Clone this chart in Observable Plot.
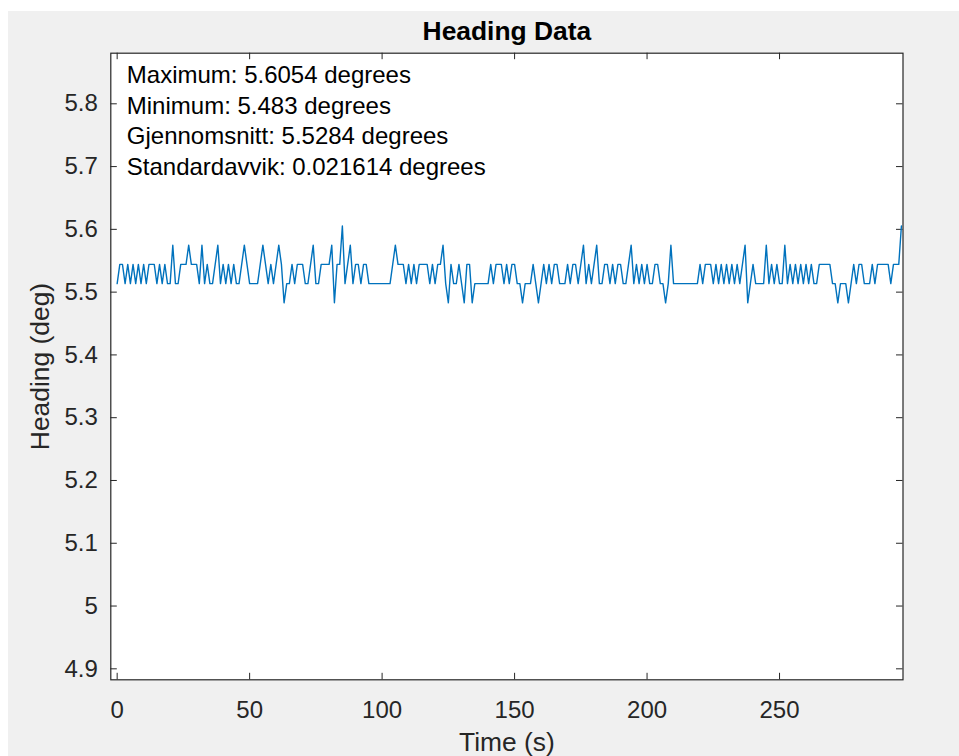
<!DOCTYPE html>
<html>
<head>
<meta charset="utf-8">
<script src="https://cdn.jsdelivr.net/npm/d3@7"></script>
<script src="https://cdn.jsdelivr.net/npm/@observablehq/plot@0.6"></script>
<style>
  html, body { margin: 0; padding: 0; background: #ffffff; }
  #wrap { position: relative; width: 959px; height: 756px; overflow: hidden; }
  #bg { position: absolute; left: 8px; top: 11px; right: 0; bottom: 0; background: #f0f0f0; }
  #chart { position: absolute; left: 0; top: 0; }
  #chart svg { background: transparent; }
</style>
</head>
<body>
<div id="wrap"><div id="bg"></div><div id="chart"></div></div>
<script>
// ---- data ----
const title = "Heading Data";
const xLabel = "Time (s)";
const yLabel = "Heading (deg)";
const xTicks = [0, 50, 100, 150, 200, 250];
const yTicks = [4.9, 5, 5.1, 5.2, 5.3, 5.4, 5.5, 5.6, 5.7, 5.8];
const xDomain = [-2.4, 296.6];
const yDomain = [4.8825, 5.8806];
const statsLines = [
  "Maximum: 5.6054 degrees",
  "Minimum: 5.483 degrees",
  "Gjennomsnitt: 5.5284 degrees",
  "Standardavvik: 0.021614 degrees"
];
// heading samples, one per second (t = 0 .. 296 s)
const heading = [
5.5136,5.5442,5.5442,5.5136,5.5442,5.5136,5.5442,5.5136,5.5442,5.5136,
5.5442,5.5136,5.5442,5.5442,5.5442,5.5136,5.5442,5.5136,5.5442,5.5136,
5.5136,5.5748,5.5136,5.5136,5.5442,5.5442,5.5442,5.5748,5.5442,5.5442,
5.5442,5.5136,5.5748,5.5136,5.5442,5.5136,5.5136,5.5442,5.5748,5.5136,
5.5442,5.5136,5.5442,5.5136,5.5442,5.5136,5.5136,5.5442,5.5748,5.5442,
5.5136,5.5136,5.5136,5.5136,5.5442,5.5748,5.5442,5.5136,5.5442,5.5136,
5.5442,5.5748,5.5442,5.4830,5.5136,5.5136,5.5442,5.5136,5.5442,5.5442,
5.5442,5.5136,5.5136,5.5442,5.5748,5.5136,5.5136,5.5442,5.5442,5.5442,
5.5442,5.5748,5.4830,5.5442,5.5442,5.6054,5.5136,5.5442,5.5748,5.5136,
5.5442,5.5442,5.5136,5.5442,5.5442,5.5136,5.5136,5.5136,5.5136,5.5136,
5.5136,5.5136,5.5136,5.5136,5.5442,5.5748,5.5442,5.5442,5.5442,5.5136,
5.5442,5.5136,5.5442,5.5136,5.5442,5.5442,5.5442,5.5442,5.5136,5.5442,
5.5136,5.5442,5.5442,5.5748,5.5136,5.4830,5.5442,5.5136,5.5136,5.5442,
5.5136,5.4830,5.5442,5.5442,5.4830,5.5136,5.5136,5.5136,5.5136,5.5136,
5.5136,5.5442,5.5136,5.5442,5.5442,5.5442,5.5136,5.5442,5.5136,5.5442,
5.5442,5.5136,5.5136,5.4830,5.5136,5.5136,5.5136,5.5442,5.5136,5.4830,
5.5136,5.5442,5.5136,5.5442,5.5136,5.5442,5.5442,5.5136,5.5136,5.5136,
5.5442,5.5136,5.5442,5.5442,5.5136,5.5442,5.5748,5.5136,5.5442,5.5136,
5.5442,5.5748,5.5136,5.5136,5.5442,5.5442,5.5136,5.5442,5.5136,5.5442,
5.5442,5.5136,5.5136,5.5442,5.5748,5.5136,5.5442,5.5136,5.5442,5.5136,
5.5442,5.5136,5.5136,5.5442,5.5442,5.5136,5.5136,5.4830,5.5136,5.5748,
5.5136,5.5136,5.5136,5.5136,5.5136,5.5136,5.5136,5.5136,5.5136,5.5136,
5.5442,5.5136,5.5442,5.5442,5.5442,5.5136,5.5442,5.5136,5.5442,5.5136,
5.5442,5.5136,5.5442,5.5136,5.5442,5.5136,5.5442,5.5748,5.4830,5.5136,
5.5442,5.5136,5.5136,5.5136,5.5136,5.5748,5.5136,5.5442,5.5136,5.5442,
5.5136,5.5136,5.5748,5.5136,5.5442,5.5136,5.5442,5.5136,5.5442,5.5136,
5.5442,5.5136,5.5442,5.5136,5.5136,5.5442,5.5442,5.5442,5.5442,5.5442,
5.5136,5.5136,5.4830,5.5136,5.5136,5.5136,5.4830,5.5136,5.5442,5.5136,
5.5442,5.5442,5.5136,5.5136,5.5136,5.5442,5.5136,5.5442,5.5442,5.5442,
5.5442,5.5442,5.5136,5.5442,5.5442,5.5442,5.6054
];

// ---- layout ----
const W = 959, H = 756;
const mL = 110.3, mR = 56.5, mT = 52.7, mB = 76.7;
const plotW = W - mL - mR, plotH = H - mT - mB;
const tickLen = 6.5;
const axisColor = "#262626";
const font = "'Liberation Sans', Arial, Helvetica, sans-serif";

const chart = Plot.plot({
  width: W,
  height: H,
  marginLeft: mL,
  marginRight: mR,
  marginTop: mT,
  marginBottom: mB,
  style: { fontFamily: font, background: "transparent", color: axisColor, overflow: "visible" },
  x: { domain: xDomain, label: null },
  y: { domain: yDomain, label: null },
  marks: [
    Plot.frame({ fill: "white", stroke: null }),
    Plot.axisX({ ticks: xTicks, tickSize: 0, tickPadding: 21, fontSize: 24, tickFormat: d => String(d), label: null, fill: axisColor }),
    Plot.axisY({ ticks: yTicks, tickSize: 0, tickPadding: 13, fontSize: 24, tickFormat: d => String(d), label: null, fill: axisColor }),
    // inward ticks, bottom/top/left/right
    Plot.tickX(xTicks, { x: d => d, insetTop: plotH - tickLen, stroke: axisColor, strokeWidth: 1 }),
    Plot.tickX(xTicks, { x: d => d, insetBottom: plotH - tickLen, stroke: axisColor, strokeWidth: 1 }),
    Plot.tickY(yTicks, { y: d => d, insetRight: plotW - tickLen, stroke: axisColor, strokeWidth: 1 }),
    Plot.tickY(yTicks, { y: d => d, insetLeft: plotW - tickLen, stroke: axisColor, strokeWidth: 1 }),
    Plot.line(heading, { x: (d, i) => i, y: d => d, stroke: "#0072BD", strokeWidth: 1.4 }),
    Plot.frame({ stroke: axisColor, strokeWidth: 1.2 }),
    Plot.text([statsLines.join("\n")], {
      text: d => d, frameAnchor: "top-left", textAnchor: "start", lineAnchor: "top",
      dx: 16, dy: 8, lineHeight: 1.275, fontSize: 24, fill: "#000000"
    }),
    Plot.text([title], {
      text: d => d, frameAnchor: "top", lineAnchor: "middle", textAnchor: "middle",
      dy: -22, fontSize: 26.4, fontWeight: "bold", fill: "#000000"
    }),
    Plot.text([xLabel], {
      text: d => d, frameAnchor: "bottom", lineAnchor: "middle", textAnchor: "middle",
      dy: 63, fontSize: 26.4, fill: axisColor
    }),
    Plot.text([yLabel], {
      text: d => d, frameAnchor: "left", lineAnchor: "middle", textAnchor: "middle",
      dx: -70, rotate: -90, fontSize: 26.4, fill: axisColor
    })
  ]
});
document.getElementById("chart").appendChild(chart);
</script>
</body>
</html>
